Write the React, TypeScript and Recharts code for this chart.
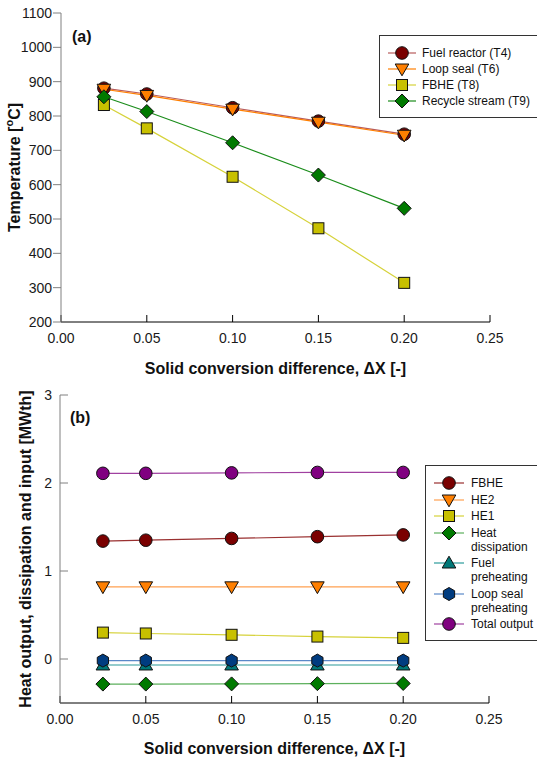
import { LineChart, Line, XAxis, YAxis } from "recharts";

const FONT = "'Liberation Sans', Arial, sans-serif";

// x positions (solid conversion difference)
const xValues = [0.025, 0.05, 0.1, 0.15, 0.2];
const xTicks = [0, 0.05, 0.1, 0.15, 0.2, 0.25];

// (a) temperatures, degC
const fuelReactorT4 = [881, 864, 824, 785, 747];
const loopSealT6 = [878, 860, 820, 782, 744];
const fbheT8 = [832, 764, 623, 473, 314];
const recycleT9 = [856, 813, 722, 628, 531];
const tempTicks = [200, 300, 400, 500, 600, 700, 800, 900, 1000, 1100];

// (b) heat flows, MWth
const fbheHeat = [1.34, 1.35, 1.37, 1.39, 1.41];
const he2Heat = [0.82, 0.82, 0.82, 0.82, 0.82];
const he1Heat = [0.3, 0.29, 0.275, 0.255, 0.24];
const heatDissipation = [-0.285, -0.285, -0.283, -0.28, -0.278];
const fuelPreheating = [-0.068, -0.068, -0.068, -0.068, -0.068];
const loopSealPreheating = [-0.018, -0.018, -0.018, -0.018, -0.018];
const totalOutput = [2.11, 2.11, 2.115, 2.12, 2.12];
const heatTicks = [0, 1, 2, 3];

type Shape = "circle" | "triDown" | "square" | "diamond" | "triUp" | "hexagon";

type Series = {
  key: string;
  name: string[];
  values: number[];
  shape: Shape;
  fill: string;
  stroke: string;
};

const tempSeries: Series[] = [
  { key: "t4", name: ["Fuel reactor (T4)"], values: fuelReactorT4, shape: "circle", fill: "#7a0000", stroke: "#b85c5c" },
  { key: "t6", name: ["Loop seal (T6)"], values: loopSealT6, shape: "triDown", fill: "#ff7f00", stroke: "#ff7f00" },
  { key: "t8", name: ["FBHE (T8)"], values: fbheT8, shape: "square", fill: "#c8c000", stroke: "#d6d23a" },
  { key: "t9", name: ["Recycle stream (T9)"], values: recycleT9, shape: "diamond", fill: "#007a00", stroke: "#1a8c1a" },
];

const heatSeries: Series[] = [
  { key: "fbhe", name: ["FBHE"], values: fbheHeat, shape: "circle", fill: "#7a0000", stroke: "#9a3030" },
  { key: "he2", name: ["HE2"], values: he2Heat, shape: "triDown", fill: "#ff7f00", stroke: "#ffa050" },
  { key: "he1", name: ["HE1"], values: he1Heat, shape: "square", fill: "#c8c000", stroke: "#d6d23a" },
  { key: "diss", name: ["Heat", "dissipation"], values: heatDissipation, shape: "diamond", fill: "#007a00", stroke: "#5cb05c" },
  { key: "fuelpre", name: ["Fuel", "preheating"], values: fuelPreheating, shape: "triUp", fill: "#007878", stroke: "#2a9a9a" },
  { key: "looppre", name: ["Loop seal", "preheating"], values: loopSealPreheating, shape: "hexagon", fill: "#003c80", stroke: "#5a88c8" },
  { key: "total", name: ["Total output"], values: totalOutput, shape: "circle", fill: "#800080", stroke: "#a040a0" },
];

const buildRows = (series: Series[]) =>
  xValues.map((x, i) => {
    const row: Record<string, number> = { x };
    series.forEach((s) => (row[s.key] = s.values[i]));
    return row;
  });

const tempRows = buildRows(tempSeries);
const heatRows = buildRows(heatSeries);

function Marker({ cx, cy, shape, fill }: { cx: number; cy: number; shape: Shape; fill: string }) {
  const common = { fill, stroke: "#111", strokeWidth: 1 };
  switch (shape) {
    case "circle":
      return <circle cx={cx} cy={cy} r={6.3} {...common} />;
    case "triDown":
      return <polygon points={`${cx - 6.8},${cy - 5} ${cx + 6.8},${cy - 5} ${cx},${cy + 6.8}`} {...common} />;
    case "triUp":
      return <polygon points={`${cx - 6.8},${cy + 5} ${cx + 6.8},${cy + 5} ${cx},${cy - 6.8}`} {...common} />;
    case "square":
      return <rect x={cx - 5.5} y={cy - 5.5} width={11} height={11} {...common} />;
    case "diamond":
      return <polygon points={`${cx},${cy - 7} ${cx + 7},${cy} ${cx},${cy + 7} ${cx - 7},${cy}`} {...common} />;
    case "hexagon": {
      const pts = [0, 1, 2, 3, 4, 5]
        .map((k) => {
          const a = (Math.PI / 3) * k - Math.PI / 2;
          return `${cx + 6.5 * Math.cos(a)},${cy + 6.5 * Math.sin(a)}`;
        })
        .join(" ");
      return <polygon points={pts} {...common} />;
    }
  }
}

function LegendBox({ series, left, top, width, padTop, padBottom, rowGap, lineLen, textGap }: {
  series: Series[];
  left: number;
  top: number;
  width: number;
  padTop: number;
  padBottom: number;
  rowGap: number;
  lineLen: number;
  textGap: number;
}) {
  return (
    <div
      style={{
        position: "absolute",
        left,
        top,
        width,
        background: "#fff",
        border: "1px solid #333",
        boxSizing: "border-box",
        paddingTop: padTop,
        paddingBottom: padBottom,
        paddingLeft: 8,
        fontFamily: FONT,
        fontSize: 12,
        color: "#111",
      }}
    >
      {series.map((s) => (
        <div key={s.key} style={{ display: "flex", alignItems: "flex-start", marginBottom: rowGap }}>
          <svg width={lineLen} height={14} style={{ flex: "none" }}>
            <line x1={0} x2={lineLen} y1={7} y2={7} stroke={s.stroke} strokeWidth={1.2} />
            <Marker cx={lineLen / 2} cy={7} shape={s.shape} fill={s.fill} />
          </svg>
          <div style={{ marginLeft: textGap, lineHeight: "14px" }}>
            {s.name.map((t) => (
              <div key={t}>{t}</div>
            ))}
          </div>
        </div>
      ))}
    </div>
  );
}

const tickStyle = { fontSize: 14, fill: "#1a1a1a", fontFamily: FONT };
const titleStyle = { fontSize: 16, fontWeight: "bold" as const, fontFamily: FONT, fill: "#111" };

function renderLines(series: Series[]) {
  return series.map((s) => (
    <Line
      key={s.key}
      xAxisId="bottom"
      yAxisId="left"
      dataKey={s.key}
      type="linear"
      stroke={s.stroke}
      strokeWidth={1.2}
      isAnimationActive={false}
      activeDot={false}
      dot={(p: any) => (
        <g key={`${s.key}-${p.index}`}>
          <Marker cx={p.cx} cy={p.cy} shape={s.shape} fill={s.fill} />
        </g>
      )}
    />
  ));
}

export default function App() {
  return (
    <div
      style={{
        position: "absolute",
        left: 0,
        top: 0,
        width: 537,
        height: 761,
        overflow: "hidden",
        background: "#fff",
      }}
    >
      {/* (a) temperatures */}
      <div style={{ position: "absolute", left: 0, top: 0 }}>
        <LineChart width={537} height={380} data={tempRows} margin={{ top: 13, right: 47, bottom: 8, left: 16 }}>
          <XAxis
            xAxisId="bottom"
            dataKey="x"
            type="number"
            domain={[0, 0.25]}
            ticks={xTicks}
            interval={0}
            tickFormatter={(v: number) => v.toFixed(2)}
            height={50}
            tickSize={-7}
            tickMargin={18}
            stroke="#000"
            tick={tickStyle}
          />
          <XAxis
            xAxisId="top"
            orientation="top"
            dataKey="x"
            type="number"
            domain={[0, 0.25]}
            ticks={xTicks}
            interval={0}
            height={0}
            tickSize={-7}
            tick={false}
            stroke="#000"
          />
          <YAxis
            yAxisId="inner"
            type="number"
            domain={[200, 1100]}
            ticks={tempTicks}
            interval={0}
            width={0}
            tickSize={-8}
            tick={false}
            axisLine={false}
            stroke="#808080"
          />
          <YAxis
            yAxisId="left"
            type="number"
            domain={[200, 1100]}
            ticks={tempTicks}
            interval={0}
            width={45}
            tickSize={8}
            tickMargin={1}
            stroke="#808080"
            tick={tickStyle}
          />
          <YAxis
            yAxisId="right"
            orientation="right"
            type="number"
            domain={[200, 1100]}
            ticks={tempTicks}
            interval={0}
            width={0}
            tickSize={-8}
            tick={false}
            stroke="#000"
          />
          {renderLines(tempSeries)}
          <text x={72} y={42} {...titleStyle}>(a)</text>
          <text
            transform="translate(14,167.5) rotate(-90)"
            textAnchor="middle"
            dominantBaseline="central"
            {...titleStyle}
          >
            Temperature [<tspan fontSize={11} dy={-5}>o</tspan>
            <tspan dy={5}>C]</tspan>
          </text>
          <text x={275.5} y={374} textAnchor="middle" {...titleStyle}>
            Solid conversion difference, ΔX [-]
          </text>
        </LineChart>
      </div>
      <LegendBox
        series={tempSeries}
        left={379}
        top={35}
        width={175}
        padTop={10}
        padBottom={7}
        rowGap={2}
        lineLen={28}
        textGap={6}
      />

      {/* (b) heat flows */}
      <div style={{ position: "absolute", left: 0, top: 380 }}>
        <LineChart width={537} height={381} data={heatRows} margin={{ top: 15, right: 48, bottom: 8, left: 15 }}>
          <XAxis
            xAxisId="bottom"
            dataKey="x"
            type="number"
            domain={[0, 0.25]}
            ticks={xTicks}
            interval={0}
            tickFormatter={(v: number) => v.toFixed(2)}
            height={50}
            tickSize={-7}
            tickMargin={18}
            stroke="#000"
            tick={tickStyle}
          />
          <XAxis
            xAxisId="top"
            orientation="top"
            dataKey="x"
            type="number"
            domain={[0, 0.25]}
            ticks={xTicks}
            interval={0}
            height={0}
            tickSize={-7}
            tick={false}
            stroke="#000"
          />
          <YAxis
            yAxisId="left"
            type="number"
            domain={[-0.5, 3]}
            ticks={heatTicks}
            interval={0}
            width={45}
            tickSize={-8}
            tickMargin={16}
            stroke="#808080"
            tick={tickStyle}
          />
          <YAxis
            yAxisId="right"
            orientation="right"
            type="number"
            domain={[-0.5, 3]}
            ticks={heatTicks}
            interval={0}
            width={0}
            tickSize={-8}
            tick={false}
            stroke="#000"
          />
          {renderLines(heatSeries)}
          <text x={70} y={43} {...titleStyle}>(b)</text>
          <text
            transform="translate(25,169) rotate(-90)"
            textAnchor="middle"
            dominantBaseline="central"
            {...titleStyle}
          >
            Heat output, dissipation and input [MWth]
          </text>
          <text x={274.5} y={374} textAnchor="middle" {...titleStyle}>
            Solid conversion difference, ΔX [-]
          </text>
        </LineChart>
      </div>
      <LegendBox
        series={heatSeries}
        left={425}
        top={465}
        width={130}
        padTop={10}
        padBottom={6}
        rowGap={2.5}
        lineLen={30}
        textGap={7}
      />
    </div>
  );
}
